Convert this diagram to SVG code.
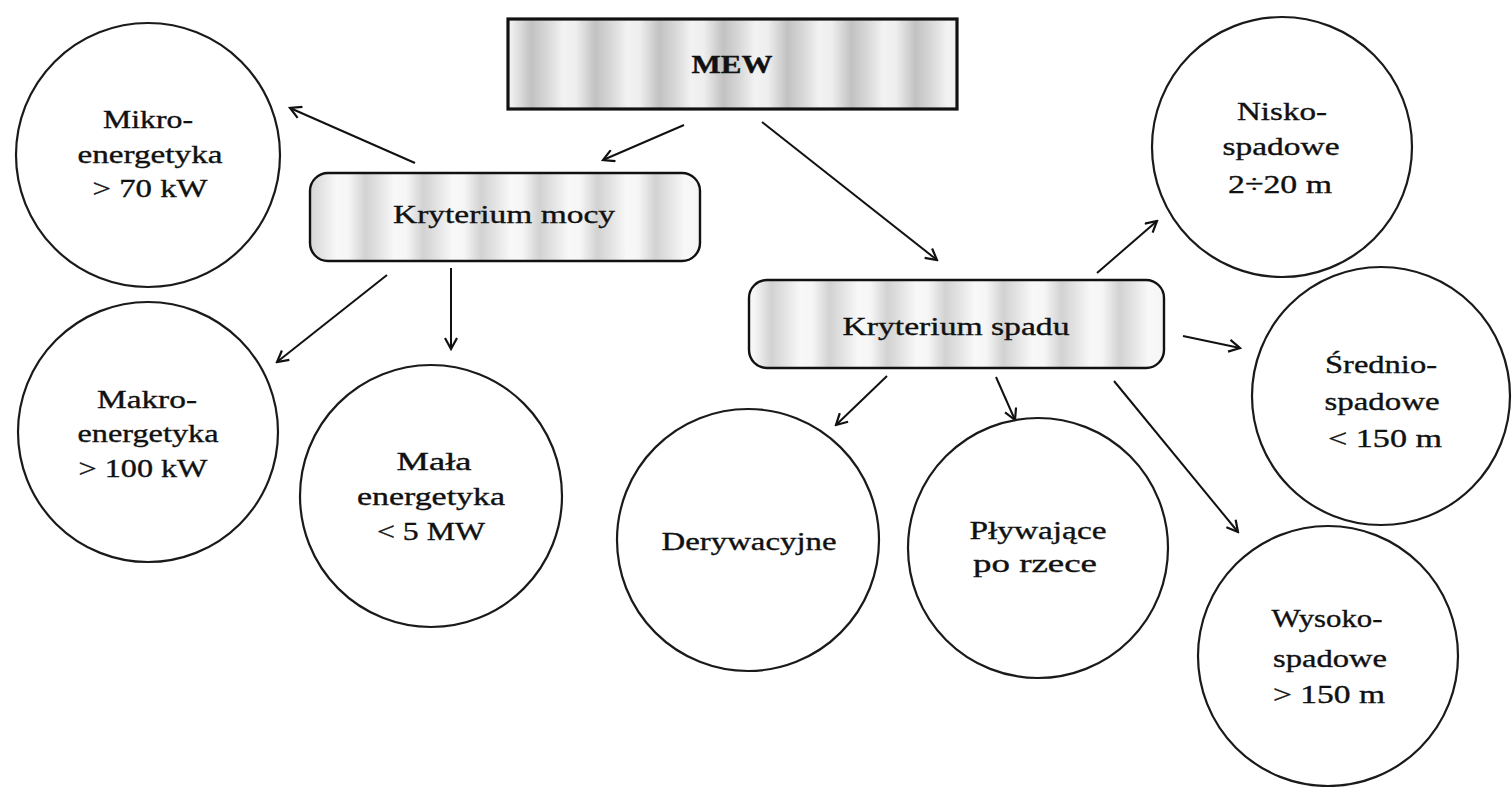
<svg xmlns="http://www.w3.org/2000/svg" width="1512" height="787" viewBox="0 0 1512 787">
<style>
.c{fill:#fff;stroke:#1a1a1a;stroke-width:2.2}
.t{font-family:"Liberation Serif","Times New Roman",serif;font-size:25px;fill:#111;stroke:#111;stroke-width:0.35;text-anchor:middle}
.b{font-weight:bold}
.e{stroke:#111;stroke-width:2;fill:none}
</style>
<defs>
<linearGradient id="stripe" x1="0" y1="0" x2="64" y2="0" gradientUnits="userSpaceOnUse" spreadMethod="repeat">
<stop offset="0" stop-color="#eeeeee"/>
<stop offset="0.3" stop-color="#c2c2c2"/>
<stop offset="0.55" stop-color="#d8d8d8"/>
<stop offset="0.8" stop-color="#f2f2f2"/>
<stop offset="1" stop-color="#eeeeee"/>
</linearGradient>
<linearGradient id="stripe2" x1="0" y1="0" x2="58" y2="0" gradientUnits="userSpaceOnUse" spreadMethod="repeat">
<stop offset="0" stop-color="#f6f6f6"/>
<stop offset="0.3" stop-color="#d2d2d2"/>
<stop offset="0.55" stop-color="#e4e4e4"/>
<stop offset="0.8" stop-color="#f8f8f8"/>
<stop offset="1" stop-color="#f6f6f6"/>
</linearGradient>
<marker id="arr" viewBox="0 0 14 14" refX="12" refY="7" markerWidth="14" markerHeight="14" markerUnits="userSpaceOnUse" orient="auto">
<path d="M1,1 L12,7 L1,13" fill="none" stroke="#111" stroke-width="2.2"/>
</marker>
</defs>
<rect width="1512" height="787" fill="#fff"/>

<g id="connectors">
<line class="e" x1="684" y1="125" x2="603" y2="160" marker-end="url(#arr)"/>
<line class="e" x1="762" y1="122" x2="937" y2="260" marker-end="url(#arr)"/>
<line class="e" x1="415" y1="163" x2="290" y2="108" marker-end="url(#arr)"/>
<line class="e" x1="387" y1="275" x2="277" y2="362" marker-end="url(#arr)"/>
<line class="e" x1="451" y1="268" x2="451" y2="349" marker-end="url(#arr)"/>
<line class="e" x1="1097" y1="273" x2="1157" y2="221" marker-end="url(#arr)"/>
<line class="e" x1="1183" y1="336" x2="1240" y2="348" marker-end="url(#arr)"/>
<line class="e" x1="887" y1="376" x2="836" y2="425" marker-end="url(#arr)"/>
<line class="e" x1="996" y1="377" x2="1015" y2="420" marker-end="url(#arr)"/>
<line class="e" x1="1114" y1="381" x2="1238" y2="532" marker-end="url(#arr)"/>
</g>

<g id="mew">
<rect x="508" y="19" width="449" height="90" fill="url(#stripe)" stroke="#111" stroke-width="3.2"/>
<text class="t b" x="732" y="73" textLength="81" lengthAdjust="spacingAndGlyphs">MEW</text>
</g>

<g id="kryterium-mocy">
<rect x="310" y="173" width="390" height="88" rx="18" fill="url(#stripe2)" stroke="#111" stroke-width="2.4"/>
<text class="t" x="504" y="223" textLength="222" lengthAdjust="spacingAndGlyphs">Kryterium mocy</text>
</g>

<g id="kryterium-spadu">
<rect x="749" y="280" width="415" height="88" rx="18" fill="url(#stripe2)" stroke="#111" stroke-width="2.4"/>
<text class="t" x="956" y="335" textLength="227" lengthAdjust="spacingAndGlyphs">Kryterium spadu</text>
</g>

<g id="mikro">
<circle class="c" cx="148" cy="155" r="132"/>
<text class="t" x="148" y="128" textLength="90" lengthAdjust="spacingAndGlyphs">Mikro-</text>
<text class="t" x="150" y="163" textLength="145" lengthAdjust="spacingAndGlyphs">energetyka</text>
<text class="t" x="150" y="197" textLength="115" lengthAdjust="spacingAndGlyphs">&gt; 70 kW</text>
</g>

<g id="makro">
<circle class="c" cx="148" cy="432" r="130"/>
<text class="t" x="147" y="408" textLength="100" lengthAdjust="spacingAndGlyphs">Makro-</text>
<text class="t" x="148" y="442" textLength="141" lengthAdjust="spacingAndGlyphs">energetyka</text>
<text class="t" x="143" y="477" textLength="129" lengthAdjust="spacingAndGlyphs">&gt; 100 kW</text>
</g>

<g id="mala">
<circle class="c" cx="431" cy="496" r="131"/>
<text class="t" x="434" y="470" textLength="75" lengthAdjust="spacingAndGlyphs">Mała</text>
<text class="t" x="431" y="505" textLength="148" lengthAdjust="spacingAndGlyphs">energetyka</text>
<text class="t" x="431" y="540" textLength="108" lengthAdjust="spacingAndGlyphs">&lt; 5 MW</text>
</g>

<g id="derywacyjne">
<circle class="c" cx="748" cy="540" r="131"/>
<text class="t" x="749" y="550" textLength="175" lengthAdjust="spacingAndGlyphs">Derywacyjne</text>
</g>

<g id="plywajace">
<circle class="c" cx="1038" cy="548" r="130"/>
<text class="t" x="1038" y="539" textLength="137" lengthAdjust="spacingAndGlyphs">Pływające</text>
<text class="t" x="1035" y="572" textLength="124" lengthAdjust="spacingAndGlyphs">po rzece</text>
</g>

<g id="nisko">
<circle class="c" cx="1282" cy="147" r="130"/>
<text class="t" x="1282" y="120" textLength="90" lengthAdjust="spacingAndGlyphs">Nisko-</text>
<text class="t" x="1281" y="155" textLength="117" lengthAdjust="spacingAndGlyphs">spadowe</text>
<text class="t" x="1280" y="193" textLength="104" lengthAdjust="spacingAndGlyphs">2÷20 m</text>
</g>

<g id="srednio">
<circle class="c" cx="1381" cy="396" r="129"/>
<text class="t" x="1381" y="373" textLength="112" lengthAdjust="spacingAndGlyphs">Średnio-</text>
<text class="t" x="1382" y="410" textLength="115" lengthAdjust="spacingAndGlyphs">spadowe</text>
<text class="t" x="1385" y="447" textLength="114" lengthAdjust="spacingAndGlyphs">&lt; 150 m</text>
</g>

<g id="wysoko">
<circle class="c" cx="1328" cy="656" r="130"/>
<text class="t" x="1327" y="627" textLength="111" lengthAdjust="spacingAndGlyphs">Wysoko-</text>
<text class="t" x="1330" y="667" textLength="114" lengthAdjust="spacingAndGlyphs">spadowe</text>
<text class="t" x="1329" y="703" textLength="112" lengthAdjust="spacingAndGlyphs">&gt; 150 m</text>
</g>
</svg>
